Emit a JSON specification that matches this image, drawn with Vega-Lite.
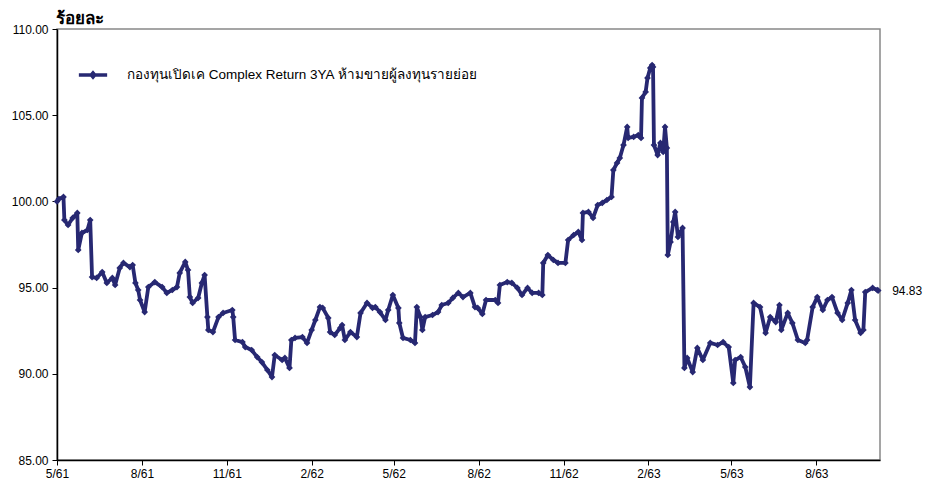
{
  "$schema": "https://vega.github.io/schema/vega-lite/v6.json",
  "autosize": "none",
  "width": 823,
  "height": 431,
  "padding": {"left": 57, "top": 29, "right": 54, "bottom": 23},
  "background": "white",
  "config": {
    "font": "Liberation Sans",
    "view": {"stroke": "#888888", "strokeWidth": 1.5}
  },
  "title": {
    "text": "ร้อยละ",
    "anchor": "start",
    "frame": "group",
    "fontSize": 17,
    "fontWeight": "bold",
    "color": "#000000",
    "offset": -5,
    "dx": -1
  },
  "datasets": {
    "fund": [
      {"d": "2018-05-01", "v": 100.00},
      {"d": "2018-05-03", "v": 100.14},
      {"d": "2018-05-08", "v": 100.26},
      {"d": "2018-05-09", "v": 98.92},
      {"d": "2018-05-13", "v": 98.63},
      {"d": "2018-05-18", "v": 99.04},
      {"d": "2018-05-23", "v": 99.33},
      {"d": "2018-05-24", "v": 97.18},
      {"d": "2018-05-28", "v": 98.17},
      {"d": "2018-06-03", "v": 98.34},
      {"d": "2018-06-06", "v": 98.92},
      {"d": "2018-06-08", "v": 95.61},
      {"d": "2018-06-13", "v": 95.56},
      {"d": "2018-06-19", "v": 95.90},
      {"d": "2018-06-24", "v": 95.27},
      {"d": "2018-06-30", "v": 95.56},
      {"d": "2018-07-03", "v": 95.15},
      {"d": "2018-07-08", "v": 96.14},
      {"d": "2018-07-12", "v": 96.43},
      {"d": "2018-07-19", "v": 96.19},
      {"d": "2018-07-22", "v": 96.31},
      {"d": "2018-07-25", "v": 95.27},
      {"d": "2018-07-28", "v": 94.86},
      {"d": "2018-07-30", "v": 94.28},
      {"d": "2018-08-04", "v": 93.58},
      {"d": "2018-08-08", "v": 95.03},
      {"d": "2018-08-15", "v": 95.32},
      {"d": "2018-08-23", "v": 95.03},
      {"d": "2018-08-28", "v": 94.69},
      {"d": "2018-09-03", "v": 94.86},
      {"d": "2018-09-08", "v": 95.03},
      {"d": "2018-09-11", "v": 95.85},
      {"d": "2018-09-17", "v": 96.49},
      {"d": "2018-09-20", "v": 96.02},
      {"d": "2018-09-22", "v": 94.45},
      {"d": "2018-09-25", "v": 94.11},
      {"d": "2018-10-01", "v": 94.40},
      {"d": "2018-10-05", "v": 95.27},
      {"d": "2018-10-08", "v": 95.73},
      {"d": "2018-10-11", "v": 93.29},
      {"d": "2018-10-12", "v": 92.54},
      {"d": "2018-10-17", "v": 92.42},
      {"d": "2018-10-23", "v": 93.29},
      {"d": "2018-10-28", "v": 93.53},
      {"d": "2018-11-07", "v": 93.70},
      {"d": "2018-11-08", "v": 93.29},
      {"d": "2018-11-10", "v": 91.96},
      {"d": "2018-11-18", "v": 91.84},
      {"d": "2018-11-21", "v": 91.55},
      {"d": "2018-11-28", "v": 91.38},
      {"d": "2018-12-04", "v": 90.97},
      {"d": "2018-12-09", "v": 90.68},
      {"d": "2018-12-15", "v": 90.22},
      {"d": "2018-12-20", "v": 89.81},
      {"d": "2018-12-23", "v": 91.09},
      {"d": "2018-12-31", "v": 90.80},
      {"d": "2019-01-03", "v": 90.92},
      {"d": "2019-01-08", "v": 90.34},
      {"d": "2019-01-10", "v": 91.96},
      {"d": "2019-01-14", "v": 92.08},
      {"d": "2019-01-22", "v": 92.13},
      {"d": "2019-01-27", "v": 91.79},
      {"d": "2019-02-01", "v": 92.54},
      {"d": "2019-02-05", "v": 93.12},
      {"d": "2019-02-10", "v": 93.87},
      {"d": "2019-02-13", "v": 93.82},
      {"d": "2019-02-19", "v": 93.24},
      {"d": "2019-02-21", "v": 92.42},
      {"d": "2019-02-26", "v": 92.25},
      {"d": "2019-03-04", "v": 92.66},
      {"d": "2019-03-06", "v": 92.83},
      {"d": "2019-03-09", "v": 91.96},
      {"d": "2019-03-15", "v": 92.42},
      {"d": "2019-03-22", "v": 92.13},
      {"d": "2019-03-26", "v": 93.53},
      {"d": "2019-04-02", "v": 94.11},
      {"d": "2019-04-08", "v": 93.82},
      {"d": "2019-04-11", "v": 93.87},
      {"d": "2019-04-16", "v": 93.58},
      {"d": "2019-04-22", "v": 93.12},
      {"d": "2019-04-25", "v": 93.70},
      {"d": "2019-04-30", "v": 94.57},
      {"d": "2019-05-06", "v": 93.82},
      {"d": "2019-05-07", "v": 92.95},
      {"d": "2019-05-11", "v": 92.08},
      {"d": "2019-05-19", "v": 91.96},
      {"d": "2019-05-24", "v": 91.79},
      {"d": "2019-05-26", "v": 93.87},
      {"d": "2019-05-30", "v": 93.29},
      {"d": "2019-06-01", "v": 92.54},
      {"d": "2019-06-04", "v": 93.29},
      {"d": "2019-06-12", "v": 93.41},
      {"d": "2019-06-18", "v": 93.58},
      {"d": "2019-06-22", "v": 93.99},
      {"d": "2019-06-29", "v": 94.11},
      {"d": "2019-07-04", "v": 94.40},
      {"d": "2019-07-10", "v": 94.69},
      {"d": "2019-07-15", "v": 94.45},
      {"d": "2019-07-23", "v": 94.69},
      {"d": "2019-07-28", "v": 93.87},
      {"d": "2019-07-31", "v": 93.82},
      {"d": "2019-08-05", "v": 93.47},
      {"d": "2019-08-09", "v": 94.28},
      {"d": "2019-08-19", "v": 94.28},
      {"d": "2019-08-22", "v": 94.11},
      {"d": "2019-08-24", "v": 95.15},
      {"d": "2019-09-01", "v": 95.32},
      {"d": "2019-09-06", "v": 95.27},
      {"d": "2019-09-12", "v": 94.98},
      {"d": "2019-09-17", "v": 94.57},
      {"d": "2019-09-23", "v": 94.98},
      {"d": "2019-09-28", "v": 94.69},
      {"d": "2019-10-05", "v": 94.69},
      {"d": "2019-10-09", "v": 94.57},
      {"d": "2019-10-10", "v": 96.43},
      {"d": "2019-10-15", "v": 96.89},
      {"d": "2019-10-21", "v": 96.60},
      {"d": "2019-10-26", "v": 96.43},
      {"d": "2019-11-03", "v": 96.43},
      {"d": "2019-11-06", "v": 97.76},
      {"d": "2019-11-12", "v": 98.05},
      {"d": "2019-11-17", "v": 98.23},
      {"d": "2019-11-21", "v": 97.76},
      {"d": "2019-11-22", "v": 99.33},
      {"d": "2019-11-28", "v": 99.39},
      {"d": "2019-12-03", "v": 99.04},
      {"d": "2019-12-08", "v": 99.79},
      {"d": "2019-12-13", "v": 99.91},
      {"d": "2019-12-18", "v": 100.08},
      {"d": "2019-12-23", "v": 100.26},
      {"d": "2019-12-25", "v": 101.82},
      {"d": "2019-12-29", "v": 102.23},
      {"d": "2020-01-01", "v": 102.52},
      {"d": "2020-01-05", "v": 103.27},
      {"d": "2020-01-09", "v": 104.32},
      {"d": "2020-01-10", "v": 103.68},
      {"d": "2020-01-16", "v": 103.74},
      {"d": "2020-01-21", "v": 103.85},
      {"d": "2020-01-24", "v": 103.68},
      {"d": "2020-01-25", "v": 106.00},
      {"d": "2020-01-29", "v": 106.35},
      {"d": "2020-01-31", "v": 107.16},
      {"d": "2020-02-03", "v": 107.74},
      {"d": "2020-02-05", "v": 107.91},
      {"d": "2020-02-06", "v": 107.80},
      {"d": "2020-02-07", "v": 103.27},
      {"d": "2020-02-11", "v": 102.69},
      {"d": "2020-02-14", "v": 103.39},
      {"d": "2020-02-17", "v": 102.87},
      {"d": "2020-02-19", "v": 104.32},
      {"d": "2020-02-21", "v": 103.10},
      {"d": "2020-02-22", "v": 96.89},
      {"d": "2020-02-25", "v": 97.65},
      {"d": "2020-02-28", "v": 98.81},
      {"d": "2020-03-01", "v": 99.39},
      {"d": "2020-03-04", "v": 97.94},
      {"d": "2020-03-09", "v": 98.46},
      {"d": "2020-03-11", "v": 90.34},
      {"d": "2020-03-14", "v": 90.92},
      {"d": "2020-03-20", "v": 90.10},
      {"d": "2020-03-25", "v": 91.50},
      {"d": "2020-03-31", "v": 90.80},
      {"d": "2020-04-08", "v": 91.79},
      {"d": "2020-04-16", "v": 91.67},
      {"d": "2020-04-22", "v": 91.84},
      {"d": "2020-04-28", "v": 91.55},
      {"d": "2020-05-03", "v": 89.47},
      {"d": "2020-05-05", "v": 90.80},
      {"d": "2020-05-11", "v": 90.97},
      {"d": "2020-05-16", "v": 90.39},
      {"d": "2020-05-21", "v": 89.23},
      {"d": "2020-05-25", "v": 94.11},
      {"d": "2020-06-01", "v": 93.87},
      {"d": "2020-06-07", "v": 92.37},
      {"d": "2020-06-12", "v": 93.29},
      {"d": "2020-06-18", "v": 93.00},
      {"d": "2020-06-22", "v": 93.99},
      {"d": "2020-06-24", "v": 92.54},
      {"d": "2020-07-01", "v": 93.53},
      {"d": "2020-07-06", "v": 92.95},
      {"d": "2020-07-12", "v": 91.96},
      {"d": "2020-07-20", "v": 91.79},
      {"d": "2020-07-22", "v": 91.96},
      {"d": "2020-07-28", "v": 93.87},
      {"d": "2020-08-02", "v": 94.45},
      {"d": "2020-08-08", "v": 93.70},
      {"d": "2020-08-13", "v": 94.28},
      {"d": "2020-08-18", "v": 94.45},
      {"d": "2020-08-24", "v": 93.53},
      {"d": "2020-08-29", "v": 93.12},
      {"d": "2020-09-04", "v": 94.11},
      {"d": "2020-09-08", "v": 94.86},
      {"d": "2020-09-12", "v": 93.12},
      {"d": "2020-09-18", "v": 92.37},
      {"d": "2020-09-21", "v": 92.54},
      {"d": "2020-09-23", "v": 94.74},
      {"d": "2020-10-01", "v": 94.98},
      {"d": "2020-10-06", "v": 94.86},
      {"d": "2020-10-07", "v": 94.83}
    ],
    "last": [
      {"d": "2020-10-07", "v": 94.83, "label": "94.83"}
    ]
  },
  "layer": [
    {
      "data": {"name": "fund"},
      "mark": {
        "type": "line",
        "strokeWidth": 3.8,
        "strokeJoin": "round",
        "point": {"shape": "diamond", "size": 45, "filled": true}
      },
      "encoding": {
        "x": {
          "field": "d",
          "type": "temporal",
          "scale": {
            "type": "utc",
            "domain": [
              {"year": 2018, "month": 5, "date": 1, "utc": true},
              {"year": 2020, "month": 10, "date": 9, "utc": true}
            ]
          },
          "axis": {
            "title": null,
            "grid": false,
            "values": [
              {"year": 2018, "month": 5, "date": 1, "utc": true},
              {"year": 2018, "month": 8, "date": 1, "utc": true},
              {"year": 2018, "month": 11, "date": 1, "utc": true},
              {"year": 2019, "month": 2, "date": 1, "utc": true},
              {"year": 2019, "month": 5, "date": 1, "utc": true},
              {"year": 2019, "month": 8, "date": 1, "utc": true},
              {"year": 2019, "month": 11, "date": 1, "utc": true},
              {"year": 2020, "month": 2, "date": 1, "utc": true},
              {"year": 2020, "month": 5, "date": 1, "utc": true},
              {"year": 2020, "month": 8, "date": 1, "utc": true}
            ],
            "labelExpr": "(utcmonth(datum.value) + 1) + '/' + ((utcyear(datum.value) + 543) % 100)",
            "labelFontSize": 12,
            "labelColor": "#000000",
            "labelPadding": 3,
            "labelFlush": false,
            "labelOverlap": false,
            "domainColor": "#000000",
            "domainWidth": 1.5,
            "tickColor": "#000000",
            "tickSize": 5,
            "tickWidth": 1
          }
        },
        "y": {
          "field": "v",
          "type": "quantitative",
          "scale": {"domain": [85, 110], "zero": false, "nice": false},
          "axis": {
            "title": null,
            "grid": false,
            "values": [85, 90, 95, 100, 105, 110],
            "format": ".2f",
            "labelFontSize": 12,
            "labelColor": "#000000",
            "labelPadding": 4,
            "labelFlush": false,
            "domainColor": "#000000",
            "domainWidth": 1.5,
            "tickColor": "#000000",
            "tickSize": 5,
            "tickWidth": 1
          }
        },
        "color": {
          "datum": "กองทุนเปิดเค Complex Return 3YA ห้ามขายผู้ลงทุนรายย่อย",
          "type": "nominal",
          "scale": {"range": ["#272872"]},
          "legend": {
            "title": null,
            "orient": "none",
            "legendX": 20,
            "legendY": 30,
            "symbolType": "M-1,0L1,0M-0.12,0L0,-0.14L0.12,0L0,0.14Z",
            "symbolSize": 800,
            "symbolStrokeWidth": 3.5,
            "symbolFillColor": "#272872",
            "symbolStrokeColor": "#272872",
            "labelFontSize": 13.5,
            "labelColor": "#000000",
            "labelOffset": 18,
            "labelLimit": 600
          }
        }
      }
    },
    {
      "data": {"name": "last"},
      "mark": {"type": "text", "align": "left", "baseline": "middle", "dx": 14, "fontSize": 12, "color": "#000000"},
      "encoding": {
        "x": {"field": "d", "type": "temporal"},
        "y": {"field": "v", "type": "quantitative"},
        "text": {"field": "label"}
      }
    }
  ]
}
